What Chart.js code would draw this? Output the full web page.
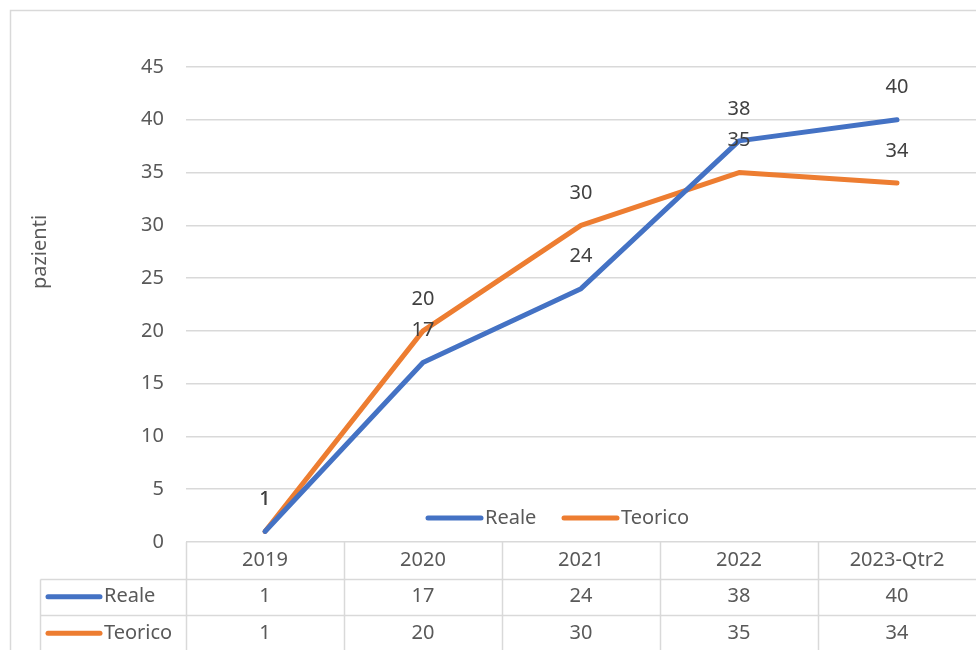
<!DOCTYPE html>
<html>
<head>
<meta charset="utf-8">
<script src="https://cdn.jsdelivr.net/npm/chart.js@4"></script>
<style>
  html, body { margin: 0; padding: 0; background: #fff; }
  canvas { display: block; }
</style>
</head>
<body>
<canvas id="pazientiChart" width="976" height="650"></canvas>
<script>
const categories = ['2019', '2020', '2021', '2022', '2023-Qtr2'];
const reale = [1, 17, 24, 38, 40];
const teorico = [1, 20, 30, 35, 34];
const seriesNames = ['Reale', 'Teorico'];
const yTicks = [0, 5, 10, 15, 20, 25, 30, 35, 40, 45];

const FONT = '"Noto Sans", "Open Sans", sans-serif';
const FSIZE = 20;
const GRID = '#d9d9d9';
const TEXT = '#595959';

// disegna cornice, etichette, legenda e tabella dati
const excelExtras = {
    id: 'excelExtras',
    beforeDraw(chart) {
        const ctx = chart.ctx;
        ctx.save();
        ctx.strokeStyle = GRID;
        ctx.lineWidth = 1.5;
        ctx.beginPath();
        ctx.moveTo(10.5, chart.height);
        ctx.lineTo(10.5, 10.5);
        ctx.lineTo(chart.width, 10.5);
        ctx.stroke();
        ctx.restore();
    },
    afterDraw(chart) {
        const ctx = chart.ctx;
        const x = chart.scales.x;
        const area = chart.chartArea;
        const step = x.getPixelForValue(1) - x.getPixelForValue(0);

        ctx.save();
        // titolo asse
        ctx.fillStyle = TEXT;
        ctx.font = FSIZE + 'px ' + FONT;
        ctx.textAlign = 'center';
        ctx.textBaseline = 'middle';
        ctx.translate(40, 252);
        ctx.rotate(-Math.PI / 2);
        ctx.fillText('pazienti', 0, 0);
        ctx.restore();

        // etichette dati
        ctx.save();
        ctx.font = FSIZE + 'px ' + FONT;
        ctx.fillStyle = '#404040';
        ctx.textAlign = 'center';
        ctx.textBaseline = 'middle';
        chart.data.datasets.forEach((ds, di) => {
            chart.getDatasetMeta(di).data.forEach((pt, i) => {
                ctx.fillText(String(ds.data[i]), pt.x, pt.y - 32);
            });
        });
        ctx.restore();

        // legenda
        ctx.save();
        ctx.font = FSIZE + 'px ' + FONT;
        ctx.textBaseline = 'middle';
        ctx.lineCap = 'round';
        ctx.lineWidth = 5;
        const legendX = [428, 564];
        chart.data.datasets.forEach((ds, di) => {
            const lx = legendX[di];
            ctx.strokeStyle = ds.borderColor;
            ctx.beginPath();
            ctx.moveTo(lx, 518);
            ctx.lineTo(lx + 53, 518);
            ctx.stroke();
            ctx.fillStyle = TEXT;
            ctx.fillText(ds.label, lx + 57, 518);
        });
        ctx.restore();

        // tabella dati
        const top = area.bottom;
        const rowH = 36.5;
        const tableLeft = 40.5;
        ctx.save();
        ctx.strokeStyle = GRID;
        ctx.lineWidth = 1.5;
        ctx.beginPath();
        for (let r = 1; r <= 2; r++) {
            const y = Math.round(top + r * rowH) + 0.5;
            ctx.moveTo(tableLeft, y);
            ctx.lineTo(chart.width, y);
        }
        ctx.moveTo(tableLeft, Math.round(top + rowH) + 0.5);
        ctx.lineTo(tableLeft, chart.height);
        for (let i = 0; i < categories.length; i++) {
            const bx = Math.round(x.getPixelForValue(i) - step / 2) + 0.5;
            ctx.moveTo(bx, top);
            ctx.lineTo(bx, chart.height);
        }
        ctx.stroke();

        ctx.font = FSIZE + 'px ' + FONT;
        ctx.fillStyle = TEXT;
        ctx.textAlign = 'center';
        ctx.textBaseline = 'middle';
        categories.forEach((c, i) => {
            ctx.fillText(c, x.getPixelForValue(i), top + rowH / 2);
        });
        chart.data.datasets.forEach((ds, di) => {
            const cy = top + rowH * (di + 1.5);
            ds.data.forEach((v, i) => {
                ctx.fillText(String(v), x.getPixelForValue(i), cy);
            });
            ctx.strokeStyle = ds.borderColor;
            ctx.lineWidth = 5;
            ctx.lineCap = 'round';
            ctx.beginPath();
            ctx.moveTo(48, cy);
            ctx.lineTo(100, cy);
            ctx.stroke();
            ctx.textAlign = 'left';
            ctx.fillText(ds.label, 104, cy);
            ctx.textAlign = 'center';
        });
        ctx.restore();
    }
};

new Chart(document.getElementById('pazientiChart'), {
    type: 'line',
    data: {
        labels: categories,
        datasets: [
            {
                label: seriesNames[0],
                data: reale,
                borderColor: '#4472C4',
                backgroundColor: '#4472C4',
                borderWidth: 5,
                borderCapStyle: 'round',
                borderJoinStyle: 'round',
                pointRadius: 0,
                tension: 0
            },
            {
                label: seriesNames[1],
                data: teorico,
                borderColor: '#ED7D31',
                backgroundColor: '#ED7D31',
                borderWidth: 5,
                borderCapStyle: 'round',
                borderJoinStyle: 'round',
                pointRadius: 0,
                tension: 0
            }
        ]
    },
    options: {
        responsive: false,
        animation: false,
        layout: {
            padding: { left: 0, right: 0, top: 67, bottom: 108 }
        },
        plugins: {
            legend: { display: false },
            tooltip: { enabled: false }
        },
        scales: {
            x: {
                display: false,
                offset: true
            },
            y: {
                min: 0,
                max: 45,
                afterFit: (scale) => { scale.width = 186; },
                afterBuildTicks: (scale) => {
                    scale.ticks = yTicks.map(v => ({ value: v }));
                },
                border: { display: false },
                grid: {
                    color: GRID,
                    lineWidth: 1.5,
                    drawTicks: false
                },
                ticks: {
                    padding: 22,
                    color: TEXT,
                    font: { family: FONT, size: FSIZE }
                }
            }
        }
    },
    plugins: [excelExtras]
});
</script>
</body>
</html>
